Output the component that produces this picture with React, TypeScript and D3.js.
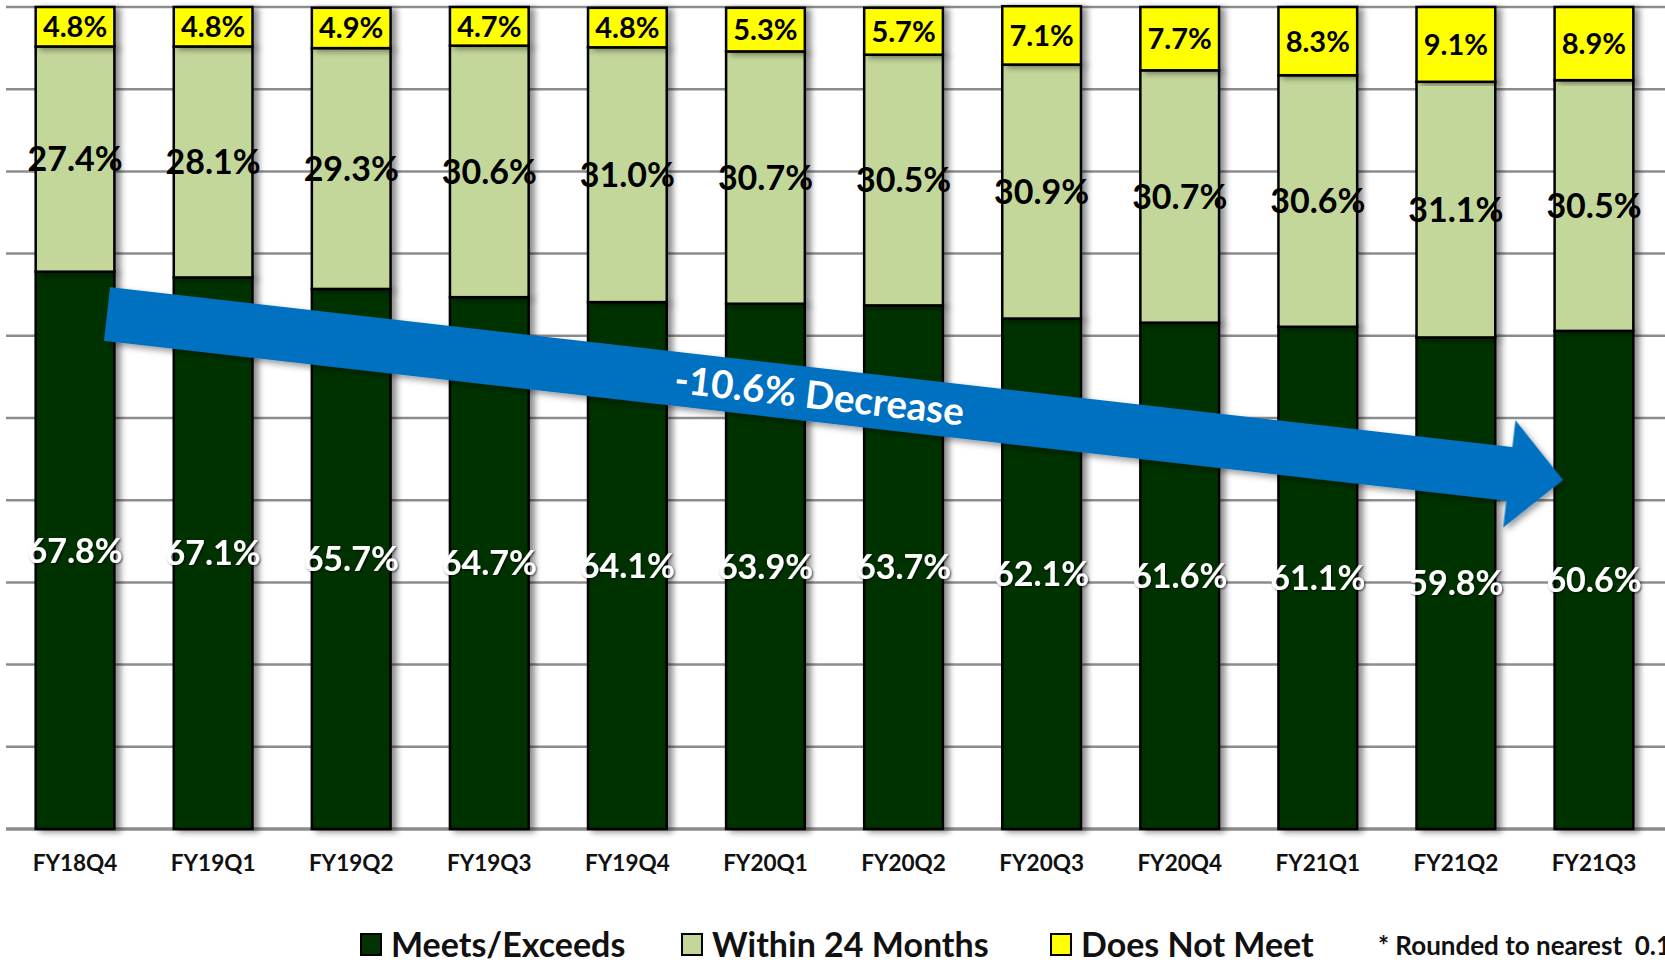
import React, { useEffect } from "react";
import * as d3 from "d3";

// quarters on the x axis
const quarters = ["FY18Q4", "FY19Q1", "FY19Q2", "FY19Q3", "FY19Q4", "FY20Q1", "FY20Q2", "FY20Q3", "FY20Q4", "FY21Q1", "FY21Q2", "FY21Q3"];

// percentages per series
const meets = [67.8, 67.1, 65.7, 64.7, 64.1, 63.9, 63.7, 62.1, 61.6, 61.1, 59.8, 60.6];
const within24 = [27.4, 28.1, 29.3, 30.6, 31.0, 30.7, 30.5, 30.9, 30.7, 30.6, 31.1, 30.5];
const doesNotMeet = [4.8, 4.8, 4.9, 4.7, 4.8, 5.3, 5.7, 7.1, 7.7, 8.3, 9.1, 8.9];

const seriesNames = ["Meets/Exceeds", "Within 24 Months", "Does Not Meet"];
const gridTicks = [0, 10, 20, 30, 40, 50, 60, 70, 80, 90, 100];

const arrowLabel = "-10.6% Decrease";
const footnote = "* Rounded to nearest  0.1%";

const W = 1665;
const H = 963;
const FONT = "Lato, 'Open Sans', sans-serif";
const colors = ["#033302", "#c4d79b", "#ffff00"];
const labelColors = ["#ffffff", "#000000", "#000000"];

export default function App() {
  useEffect(() => {
    document.body.style.margin = "0";
  }, []);

  const x = d3.scaleBand<string>().domain(quarters).range([6, W - 2]).paddingInner(0.43).paddingOuter(0.215);
  const y = d3.scaleLinear().domain([0, 100]).range([829, 7]);

  const rows = quarters.map((q, i) => ({ q, m: meets[i], w: within24[i], d: doesNotMeet[i] }));
  const stacked = d3.stack<any>().keys(["m", "w", "d"])(rows);

  // arrow: tail centre to tip (annotation)
  const tail: [number, number] = [107, 314];
  const tip: [number, number] = [1563, 480];
  const ang = (Math.atan2(tip[1] - tail[1], tip[0] - tail[0]) * 180) / Math.PI;
  const len = Math.hypot(tip[0] - tail[0], tip[1] - tail[1]);
  const headLen = 54;
  const shaftHalf = 27;
  const headHalf = 54;
  const arrowPath = d3.path();
  arrowPath.moveTo(0, -shaftHalf);
  arrowPath.lineTo(len - headLen, -shaftHalf);
  arrowPath.lineTo(len - headLen, -headHalf);
  arrowPath.lineTo(len, 0);
  arrowPath.lineTo(len - headLen, headHalf);
  arrowPath.lineTo(len - headLen, shaftHalf);
  arrowPath.lineTo(0, shaftHalf);
  arrowPath.closePath();

  const legendItems = [
    { x: 361, text: seriesNames[0], color: colors[0] },
    { x: 682, text: seriesNames[1], color: colors[1] },
    { x: 1051, text: seriesNames[2], color: colors[2] },
  ];

  return (
    <svg width={W} height={H} style={{ display: "block", background: "#fff" }} fontFamily={FONT}>
      <defs>
        <filter id="barShadow" x="-20%" y="-5%" width="150%" height="110%">
          <feDropShadow dx="5" dy="2" stdDeviation="3" floodColor="#000" floodOpacity="0.45" />
        </filter>
        <filter id="arrowShadow" x="-5%" y="-50%" width="110%" height="200%">
          <feDropShadow dx="3" dy="3" stdDeviation="3" floodColor="#000" floodOpacity="0.4" />
        </filter>
        <filter id="textGlow" x="-10%" y="-20%" width="120%" height="140%">
          <feDropShadow dx="1" dy="1" stdDeviation="1" floodColor="#000" floodOpacity="0.7" />
        </filter>
      </defs>

      {/* gridlines */}
      <g>
        {gridTicks.map((t) => (
          <line key={t} x1={6} x2={W} y1={y(t)} y2={y(t)} stroke="#8c8c8c" strokeWidth={t === 0 ? 3.5 : 2.5} />
        ))}
      </g>

      {/* bars */}
      {stacked.map((s, si) => (
        <g key={s.key} filter="url(#barShadow)">
          {s.map((d: any, i: number) => (
            <rect
              key={i}
              x={x(quarters[i])}
              y={y(d[1])}
              width={x.bandwidth()}
              height={y(d[0]) - y(d[1])}
              fill={colors[si]}
              stroke="#000"
              strokeWidth={2.5}
            />
          ))}
        </g>
      ))}

      {/* value labels */}
      {stacked.map((s, si) => (
        <g key={"l" + s.key} filter={si === 0 ? "url(#textGlow)" : undefined}>
          {s.map((d: any, i: number) => (
            <text
              key={i}
              x={(x(quarters[i]) as number) + x.bandwidth() / 2}
              y={(y(d[0]) + y(d[1])) / 2}
              dy="0.36em"
              textAnchor="middle"
              fontWeight="bold"
              fontSize={si === 2 ? 29 : 34}
              fill={labelColors[si]}
            >
              {(d[1] - d[0]).toFixed(1)}%
            </text>
          ))}
        </g>
      ))}

      {/* x axis labels */}
      {quarters.map((q) => (
        <text
          key={q}
          x={(x(q) as number) + x.bandwidth() / 2}
          y={863}
          dy="0.36em"
          textAnchor="middle"
          fontWeight="bold"
          fontSize={22.5}
          fill="#111"
        >
          {q}
        </text>
      ))}

      {/* trend arrow */}
      <g transform={`translate(${tail[0]},${tail[1]}) rotate(${ang})`}>
        <path d={arrowPath.toString()} fill="#0070c0" filter="url(#arrowShadow)" />
        <text x={717} y={0} dy="0.36em" textAnchor="middle" fill="#fff" fontWeight="bold" fontSize={38.5}>
          {arrowLabel}
        </text>
      </g>

      {/* legend */}
      {legendItems.map((it) => (
        <g key={it.text}>
          <rect x={it.x} y={934} width={20} height={21} fill={it.color} stroke="#000" strokeWidth={2} />
          <text x={it.x + 30} y={945} dy="0.36em" fontWeight="bold" fontSize={34} fill="#111">
            {it.text}
          </text>
        </g>
      ))}
      <text x={1378} y={946} dy="0.36em" fontWeight="bold" fontSize={26} fill="#111" style={{ whiteSpace: "pre" }}>
        {footnote}
      </text>
    </svg>
  );
}
